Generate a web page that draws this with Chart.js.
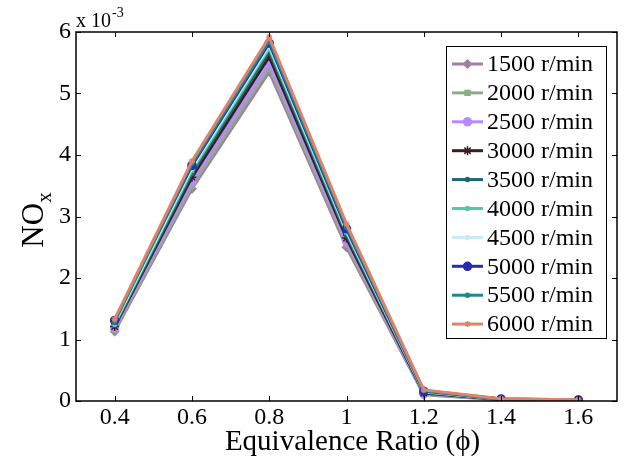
<!DOCTYPE html>
<html><head><meta charset="utf-8">
<script src="https://cdn.jsdelivr.net/npm/chart.js@4/dist/chart.umd.min.js"></script>
<style>html,body{margin:0;padding:0;background:#fff;}#wrap{width:629px;height:463px;}</style>
</head><body><div id="wrap"><canvas id="c" width="629" height="463"></canvas></div>
<script>
const phi = [0.4, 0.6, 0.8, 1.0, 1.2, 1.4, 1.6];
const seriesLabels = ['1500 r/min','2000 r/min','2500 r/min','3000 r/min','3500 r/min','4000 r/min','4500 r/min','5000 r/min','5500 r/min','6000 r/min'];
// NOx values in units of 1e-3
const nox1500 = [1.13, 3.45, 5.35, 2.50, 0.10, 0.020, 0.010];
const nox2000 = [1.16, 3.50, 5.42, 2.55, 0.11, 0.022, 0.011];
const nox2500 = [1.19, 3.57, 5.50, 2.60, 0.12, 0.024, 0.012];
const nox3000 = [1.21, 3.64, 5.60, 2.65, 0.13, 0.026, 0.013];
const nox3500 = [1.23, 3.70, 5.68, 2.70, 0.14, 0.028, 0.014];
const nox4000 = [1.25, 3.75, 5.74, 2.74, 0.15, 0.030, 0.015];
const nox4500 = [1.27, 3.79, 5.78, 2.77, 0.155, 0.031, 0.016];
const nox5000 = [1.31, 3.83, 5.82, 2.80, 0.16, 0.033, 0.018];
const nox5500 = [1.29, 3.86, 5.86, 2.83, 0.17, 0.034, 0.019];
const nox6000 = [1.33, 3.90, 5.92, 2.88, 0.18, 0.035, 0.020];
const xTicks = [0.4, 0.6, 0.8, 1.0, 1.2, 1.4, 1.6];
const yTicks = [0, 1, 2, 3, 4, 5, 6];

const allSeries = [nox1500,nox2000,nox2500,nox3000,nox3500,nox4000,nox4500,nox5000,nox5500,nox6000];
const colors = ['#a27ea2','#8fab8c','#b48cff','#3b1d1d','#1c6870','#55c8a0','#c8ecf4','#2b2bb0','#1b8a88','#e0826a'];
const styles = ['rectRot','rect','circle','star','circle','circle','circle','circle','circle','star'];
const radii = [4,3.5,4,4.5,2,2,2,4,2,3];

const datasets = allSeries.map((s,i)=>({
  label: seriesLabels[i],
  data: s.map((v,j)=>({x:phi[j], y:v})),
  borderColor: colors[i], backgroundColor: colors[i],
  borderWidth: 3, pointStyle: styles[i], pointRadius: radii[i],
  pointBorderWidth: 1.5, tension: 0, order: -i
}));

const FONT = '"Liberation Serif", "Times New Roman", serif';

const deco = {
  id: 'deco',
  afterDraw(chart) {
    const ctx = chart.ctx, a = chart.chartArea;
    const xs = chart.scales.x, ys = chart.scales.y;
    ctx.save();
    ctx.strokeStyle = '#000'; ctx.lineWidth = 1.5;
    ctx.strokeRect(a.left, a.top, a.right - a.left, a.bottom - a.top);
    ctx.lineWidth = 1;
    xTicks.forEach(t => {
      const px = Math.round(xs.getPixelForValue(t)) + 0.5;
      ctx.beginPath(); ctx.moveTo(px, a.bottom); ctx.lineTo(px, a.bottom - 5);
      ctx.moveTo(px, a.top); ctx.lineTo(px, a.top + 5); ctx.stroke();
    });
    yTicks.forEach(t => {
      const py = Math.round(ys.getPixelForValue(t)) + 0.5;
      ctx.beginPath(); ctx.moveTo(a.left, py); ctx.lineTo(a.left + 5, py);
      ctx.moveTo(a.right, py); ctx.lineTo(a.right - 5, py); ctx.stroke();
    });
    // exponent
    ctx.fillStyle = '#000';
    ctx.textBaseline = 'alphabetic'; ctx.textAlign = 'left';
    ctx.font = '20px ' + FONT;
    ctx.fillText('x 10', 76, 27);
    const w = ctx.measureText('x 10').width;
    ctx.font = '14px ' + FONT;
    ctx.fillText('-3', 76 + w + 1, 17);
    // x title
    ctx.font = '29px ' + FONT; ctx.textAlign = 'center';
    ctx.fillText('Equivalence Ratio (\u03d5)', (a.left + a.right) / 2 + 6, 450);
    // y title
    ctx.save();
    ctx.translate(43, 220); ctx.rotate(-Math.PI / 2);
    ctx.font = '31px ' + FONT; ctx.textAlign = 'left';
    const nw = ctx.measureText('NO').width;
    ctx.font = '21px ' + FONT;
    const xw = ctx.measureText('x').width;
    const tot = nw + xw;
    ctx.font = '31px ' + FONT;
    ctx.fillText('NO', -tot / 2, 0);
    ctx.font = '21px ' + FONT;
    ctx.fillText('x', -tot / 2 + nw, 8);
    ctx.restore();
    // legend
    const lx = 446, ly = 46, lw = 160, lh = 292;
    ctx.fillStyle = '#fff'; ctx.fillRect(lx, ly, lw, lh);
    ctx.strokeStyle = '#000'; ctx.lineWidth = 1;
    ctx.strokeRect(lx + 0.5, ly + 0.5, lw, lh);
    chart.data.datasets.forEach((ds, i) => {
      const cy = 64 + i * 28.9;
      ctx.strokeStyle = ds.borderColor; ctx.fillStyle = ds.backgroundColor; ctx.lineWidth = 3;
      ctx.beginPath(); ctx.moveTo(452, cy); ctx.lineTo(483, cy); ctx.stroke();
      ctx.lineWidth = 1.5;
      Chart.helpers.drawPoint(ctx, {pointStyle: ds.pointStyle, radius: ds.pointRadius, borderWidth: 1.5}, 467.5, cy);
      ctx.fillStyle = '#000'; ctx.font = '24px ' + FONT;
      ctx.textAlign = 'left'; ctx.textBaseline = 'middle';
      ctx.fillText(ds.label, 487, cy + 1);
    });
    ctx.restore();
  }
};

new Chart(document.getElementById('c'), {
  type: 'line',
  data: { datasets },
  plugins: [deco],
  options: {
    responsive: false, animation: false, devicePixelRatio: 1,
    layout: { padding: { top: 32, right: 12, left: 0, bottom: 0 } },
    plugins: { legend: { display: false }, tooltip: { enabled: false } },
    scales: {
      x: {
        type: 'linear', min: 0.3, max: 1.7,
        afterBuildTicks(s){ s.ticks = xTicks.map(v => ({value: v})); },
        afterFit(s){ s.height = 62; },
        grid: { display: false, drawTicks: false },
        border: { display: false },
        ticks: { color: '#000', font: { family: FONT, size: 24 }, padding: 2,
          callback: v => String(Math.round(v * 10) / 10), maxRotation: 0 }
      },
      y: {
        min: 0, max: 6,
        afterBuildTicks(s){ s.ticks = yTicks.map(v => ({value: v})); },
        afterFit(s){ s.width = 76; },
        grid: { display: false, drawTicks: false },
        border: { display: false },
        ticks: { color: '#000', font: { family: FONT, size: 24 }, padding: 5 }
      }
    }
  }
});
</script>
</body></html>
